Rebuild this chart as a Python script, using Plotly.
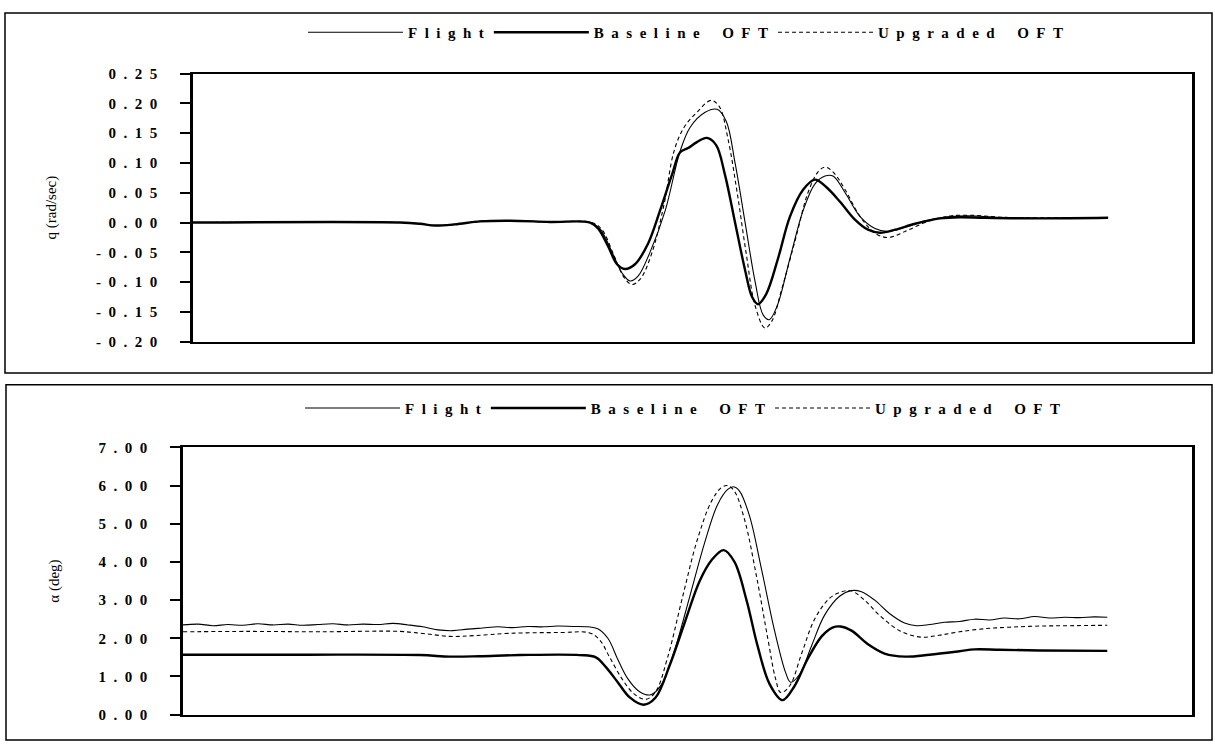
import plotly.graph_objects as go

# ---------------- q (rad/sec) panel: time in seconds ----------------
q_flight_t = [0.00, 6.79, 7.44, 7.93, 8.59, 9.41, 10.39, 11.70, 13.02, 13.34, 13.74, 14.07, 14.33, 14.59,
              14.98, 15.48, 15.97, 16.30, 16.79, 17.18, 17.48, 17.77, 18.10, 18.43, 18.69, 18.89, 19.15,
              19.57, 20.00, 20.39, 20.72, 20.98, 21.38, 21.87, 22.36, 22.79, 23.34, 24.00, 24.82, 25.64,
              26.46, 28.10, 30.00]
q_flight = [0.000, 0.000, -0.002, -0.005, -0.003, 0.002, 0.003, 0.001, 0.000, -0.010, -0.050, -0.085,
            -0.098, -0.090, -0.050, 0.020, 0.120, 0.160, 0.185, 0.190, 0.170, 0.100, 0.000, -0.100, -0.155,
            -0.163, -0.140, -0.060, 0.020, 0.065, 0.078, 0.078, 0.050, 0.010, -0.010, -0.015, -0.008,
            0.003, 0.010, 0.011, 0.008, 0.007, 0.008]

q_base_t = [0.00, 6.79, 7.44, 7.93, 8.59, 9.41, 10.39, 11.70, 13.02, 13.28, 13.61, 13.90, 14.16, 14.49,
            14.92, 15.31, 15.70, 15.97, 16.23, 16.52, 16.85, 17.15, 17.44, 17.77, 18.10, 18.33, 18.52,
            18.79, 19.18, 19.57, 20.00, 20.39, 20.75, 21.21, 21.70, 22.13, 22.52, 23.02, 23.67, 24.49,
            25.15, 25.97, 27.77, 30.00]
q_base = [0.000, 0.000, -0.002, -0.005, -0.003, 0.002, 0.003, 0.001, 0.000, -0.010, -0.040, -0.070,
          -0.078, -0.070, -0.035, 0.020, 0.080, 0.118, 0.125, 0.135, 0.142, 0.130, 0.080, 0.000, -0.080,
          -0.125, -0.137, -0.120, -0.060, 0.010, 0.055, 0.072, 0.060, 0.035, 0.005, -0.012, -0.017,
          -0.012, -0.002, 0.007, 0.009, 0.008, 0.007, 0.008]

q_upg_t = [0.00, 6.79, 7.44, 7.93, 8.59, 9.41, 10.39, 11.70, 13.08, 13.41, 13.80, 14.13, 14.39, 14.66,
           15.05, 15.44, 15.77, 16.10, 16.52, 16.98, 17.25, 17.54, 17.84, 18.13, 18.43, 18.75, 18.98,
           19.31, 19.74, 20.16, 20.49, 20.72, 20.98, 21.38, 21.87, 22.36, 22.79, 23.34, 24.00, 24.82,
           25.64, 26.46, 28.10, 30.00]
q_upg = [0.000, 0.000, -0.002, -0.005, -0.003, 0.002, 0.003, 0.001, 0.000, -0.012, -0.055, -0.092,
         -0.104, -0.095, -0.050, 0.030, 0.120, 0.160, 0.185, 0.205, 0.195, 0.140, 0.050, -0.050, -0.140,
         -0.177, -0.165, -0.110, -0.030, 0.050, 0.085, 0.093, 0.085, 0.055, 0.010, -0.018, -0.025,
         -0.015, 0.000, 0.011, 0.012, 0.009, 0.008, 0.008]

# ---------------- alpha (deg) panel ----------------
a_flight_t = [0.00, 0.49, 0.97, 1.46, 1.95, 2.43, 2.92, 3.41, 3.89, 4.38, 4.87, 5.35, 5.84, 6.33, 6.81,
              7.30, 7.78, 8.27, 8.76, 9.24, 9.73, 10.22, 10.70, 11.19, 11.68, 12.16, 12.65, 13.14, 13.46,
              13.79, 14.11, 14.43, 14.82, 15.18, 15.54, 15.96, 16.45, 16.93, 17.35, 17.68, 17.87, 18.07,
              18.39, 18.78, 19.20, 19.56, 19.72, 20.01, 20.40, 20.82, 21.31, 21.70, 22.02, 22.45, 22.93,
              23.42, 23.81, 24.23, 24.72, 25.20, 25.69, 26.18, 26.66, 27.15, 27.64, 28.12, 28.61, 29.10,
              29.58, 30.00]
a_flight = [2.35, 2.37, 2.33, 2.36, 2.34, 2.38, 2.35, 2.37, 2.34, 2.36, 2.38, 2.35, 2.37, 2.36, 2.39,
            2.35, 2.30, 2.22, 2.20, 2.24, 2.27, 2.30, 2.28, 2.31, 2.30, 2.32, 2.31, 2.30, 2.25, 2.00,
            1.45, 0.95, 0.60, 0.52, 0.80, 1.70, 3.10, 4.50, 5.50, 5.90, 5.97, 5.85, 5.20, 3.80, 2.20,
            1.10, 0.85, 1.05, 1.80, 2.60, 3.10, 3.25, 3.22, 3.00, 2.65, 2.40, 2.33, 2.36, 2.42, 2.44,
            2.50, 2.48, 2.53, 2.51, 2.57, 2.53, 2.55, 2.54, 2.56, 2.55]

a_base_t = [0.00, 3.80, 7.69, 8.66, 9.63, 10.93, 12.88, 13.40, 13.72, 14.11, 14.50, 14.95, 15.34, 15.80,
            16.28, 16.77, 17.16, 17.55, 17.90, 18.29, 18.65, 19.04, 19.46, 19.85, 20.27, 20.73, 21.08,
            21.34, 21.70, 22.22, 22.77, 23.45, 24.23, 25.20, 25.69, 26.50, 27.80, 30.00]
a_base = [1.57, 1.57, 1.56, 1.52, 1.53, 1.56, 1.56, 1.50, 1.25, 0.85, 0.45, 0.26, 0.45, 1.30, 2.40,
          3.50, 4.05, 4.31, 4.00, 3.00, 1.80, 0.80, 0.38, 0.75, 1.45, 2.05, 2.28, 2.31, 2.20, 1.85,
          1.60, 1.52, 1.57, 1.66, 1.71, 1.70, 1.68, 1.67]

a_upg_t = [0.00, 2.17, 4.44, 7.04, 7.85, 8.66, 9.47, 10.61, 12.23, 13.20, 13.53, 13.85, 14.24, 14.63,
           15.02, 15.34, 15.73, 16.22, 16.70, 17.16, 17.48, 17.68, 17.90, 18.23, 18.62, 18.98, 19.23,
           19.40, 19.69, 20.08, 20.50, 20.99, 21.38, 21.70, 22.12, 22.61, 23.26, 23.94, 24.55, 25.20,
           26.01, 26.82, 27.80, 28.77, 30.00]
a_upg = [2.17, 2.18, 2.17, 2.18, 2.12, 2.05, 2.07, 2.13, 2.15, 2.14, 1.95, 1.50, 0.95, 0.55, 0.40,
         0.60, 1.50, 3.10, 4.60, 5.60, 5.95, 6.00, 5.85, 5.10, 3.60, 2.00, 0.95, 0.58, 0.75, 1.60,
         2.50, 3.05, 3.22, 3.24, 3.00, 2.60, 2.20, 2.03, 2.08, 2.17, 2.25, 2.29, 2.32, 2.33, 2.34]

# ---------------- tick labels (letter-spaced, as printed) ----------------
SP = "\u2002"   # en space used for the wide letter spacing of the original
q_tickvals = [0.25, 0.20, 0.15, 0.10, 0.05, 0.00, -0.05, -0.10, -0.15, -0.20]
q_ticklabels = ["0.25", "0.20", "0.15", "0.10", "0.05", "0.00", "-0.05", "-0.10", "-0.15", "-0.20"]
a_tickvals = [7, 6, 5, 4, 3, 2, 1, 0]
a_ticklabels = ["7.00", "6.00", "5.00", "4.00", "3.00", "2.00", "1.00", "0.00"]

legend_words = ["Flight", "Baseline OFT", "Upgraded OFT"]
q_title = "q (rad/sec)"
a_title = "α (deg)"


def spaced(s):
    return (SP + "\u2003").join(SP.join(list(w)) for w in s.split(" "))


q_ticktext = [spaced(s) for s in q_ticklabels]
a_ticktext = [spaced(s) for s in a_ticklabels]
legend_names = [spaced(s) for s in legend_words]

SERIF = "Liberation Serif, Times New Roman, serif"
W, H = 1215, 751

fig = go.Figure()

styles = [dict(color="black", width=1.1),
          dict(color="black", width=2.4),
          dict(color="black", width=1.1, dash="4px,3px")]

for (tt, vv), name, st in zip([(q_flight_t, q_flight), (q_base_t, q_base), (q_upg_t, q_upg)],
                              legend_names, styles):
    fig.add_trace(go.Scatter(x=tt, y=vv, mode="lines", name=name, line=dict(shape="spline", **st),
                             xaxis="x", yaxis="y", legend="legend"))

for (tt, vv), name, st in zip([(a_flight_t, a_flight), (a_base_t, a_base), (a_upg_t, a_upg)],
                              legend_names, styles):
    fig.add_trace(go.Scatter(x=tt, y=vv, mode="lines", name=name, line=dict(shape="spline", **st),
                             xaxis="x2", yaxis="y2", legend="legend2"))


def px_x(p):
    return p / W


def px_y(p):
    return 1 - p / H


xcommon = dict(range=[0, 32.75], showgrid=False, zeroline=False, showticklabels=False, ticks="",
               showline=True, linecolor="black", linewidth=2, mirror=True)
ycommon = dict(showgrid=False, zeroline=False, showline=True, linecolor="black", linewidth=2.5,
               mirror=True, ticks="outside", ticklen=10, tickwidth=2, tickcolor="black",
               tickfont=dict(family=SERIF, size=15, color="black", weight="bold"),
               ticklabelstandoff=20)
title_font = dict(family=SERIF, size=15, color="black")
legend_common = dict(orientation="h", xanchor="center", yanchor="middle",
                     font=dict(family=SERIF, size=15, color="black", weight="bold"),
                     bgcolor="rgba(0,0,0,0)", itemwidth=95, tracegroupgap=0)

fig.update_layout(
    width=W, height=H, margin=dict(l=0, r=0, t=0, b=0),
    paper_bgcolor="white", plot_bgcolor="white",
    xaxis=dict(domain=[px_x(193), px_x(1192)], anchor="y", **xcommon),
    yaxis=dict(domain=[px_y(341), px_y(67)], anchor="x", range=[-0.20, 0.25],
               tickvals=q_tickvals, ticktext=q_ticktext,
               title=dict(text=q_title, font=title_font, standoff=36),
               **ycommon),
    xaxis2=dict(domain=[px_x(183), px_x(1192)], anchor="y2", **xcommon),
    yaxis2=dict(domain=[px_y(722), px_y(449)], anchor="x2", range=[0, 7],
                tickvals=a_tickvals, ticktext=a_ticktext,
                title=dict(text=a_title, font=title_font, standoff=36),
                **ycommon),
    legend=dict(x=px_x(686), y=px_y(25), **legend_common),
    legend2=dict(x=px_x(683), y=px_y(409), **legend_common),
    showlegend=True,
    shapes=[
        dict(type="rect", xref="paper", yref="paper", x0=px_x(5), x1=px_x(1212), y0=px_y(373), y1=px_y(5),
             line=dict(color="black", width=1.5)),
        dict(type="rect", xref="paper", yref="paper", x0=px_x(6), x1=px_x(1212), y0=px_y(748), y1=px_y(385),
             line=dict(color="black", width=1.5)),
    ],
)

fig.write_html("out.html", config={"displayModeBar": False},
               post_script="document.body.style.margin='0';document.body.style.overflow='hidden';")
